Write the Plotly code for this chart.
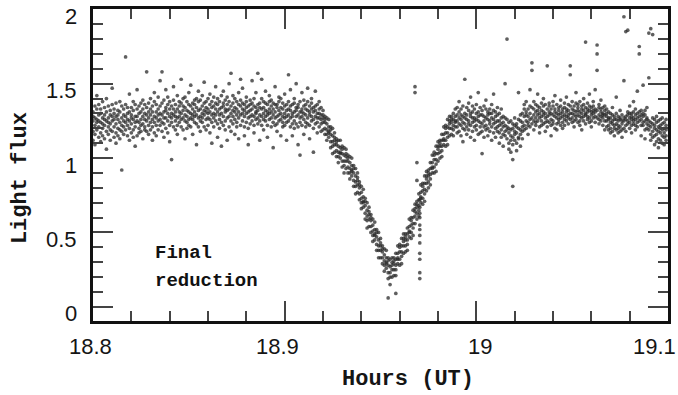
import plotly.graph_objects as go

# ---------------- data ----------------
# each row: (hour, flux, flux, flux, ...)
band_before = [
    (18.800, 1.31, 1.18, 1.25, 1.12, 1.28), (18.801, 1.22, 1.35, 1.16, 1.27, 1.09),
    (18.802, 1.26, 1.19, 1.33, 1.24, 1.42), (18.803, 1.14, 1.29, 1.21, 1.36, 1.25),
    (18.804, 1.30, 1.17, 1.24, 1.11, 1.33), (18.805, 1.20, 1.27, 1.38, 1.23, 1.15),
    (18.806, 1.34, 1.22, 1.13, 1.29, 1.26), (18.807, 1.18, 1.31, 1.25, 1.06, 1.40),
    (18.808, 1.27, 1.21, 1.35, 1.16, 1.24), (18.809, 1.23, 1.12, 1.29, 1.32, 1.19),
    (18.810, 1.36, 1.25, 1.18, 1.28, 1.47), (18.811, 1.21, 1.30, 1.14, 1.26, 1.33),
    (18.812, 1.28, 1.17, 1.23, 1.37, 1.10), (18.813, 1.15, 1.26, 1.32, 1.20, 1.29),
    (18.814, 1.31, 1.24, 1.19, 1.13, 1.38), (18.815, 1.22, 1.35, 1.27, 0.92, 1.18),
    (18.816, 1.29, 1.16, 1.25, 1.33, 1.21), (18.817, 1.19, 1.28, 1.68, 1.24, 1.36),
    (18.818, 1.34, 1.22, 1.15, 1.30, 1.26), (18.819, 1.25, 1.31, 1.20, 1.12, 1.43),
    (18.820, 1.17, 1.27, 1.34, 1.23, 1.29), (18.821, 1.32, 1.19, 1.26, 1.38, 1.14),
    (18.822, 1.24, 1.36, 1.21, 1.28, 1.08), (18.823, 1.28, 1.15, 1.33, 1.25, 1.46),
    (18.824, 1.20, 1.30, 1.24, 1.17, 1.35), (18.825, 1.37, 1.26, 1.18, 1.31, 1.22),
    (18.826, 1.23, 1.33, 1.28, 1.13, 1.39), (18.827, 1.30, 1.21, 1.36, 1.26, 1.19),
    (18.828, 1.18, 1.34, 1.25, 1.29, 1.58), (18.829, 1.27, 1.22, 1.31, 1.16, 1.37),
    (18.830, 1.33, 1.24, 1.40, 1.19, 1.29), (18.831, 1.26, 1.35, 1.21, 1.31, 1.12),
    (18.832, 1.38, 1.28, 1.17, 1.24, 1.44), (18.833, 1.22, 1.31, 1.36, 1.27, 1.15),
    (18.834, 1.29, 1.19, 1.33, 1.41, 1.25), (18.835, 1.35, 1.26, 1.22, 1.30, 1.52),
    (18.836, 1.24, 1.37, 1.29, 1.58, 1.18), (18.837, 1.31, 1.23, 1.39, 1.27, 1.14),
    (18.838, 1.27, 1.34, 1.20, 1.32, 1.46), (18.839, 1.36, 1.25, 1.30, 1.17, 1.41),
    (18.840, 1.22, 1.33, 1.28, 1.38, 1.11), (18.841, 1.30, 1.24, 1.35, 0.99, 1.27),
    (18.842, 1.39, 1.29, 1.21, 1.33, 1.48), (18.843, 1.25, 1.36, 1.31, 1.19, 1.28),
    (18.844, 1.33, 1.22, 1.27, 1.42, 1.16), (18.845, 1.28, 1.38, 1.24, 1.31, 1.35),
    (18.846, 1.21, 1.30, 1.37, 1.26, 1.53), (18.847, 1.35, 1.27, 1.19, 1.32, 1.40),
    (18.848, 1.29, 1.41, 1.25, 1.34, 1.13), (18.849, 1.24, 1.32, 1.38, 1.28, 1.20),
    (18.850, 1.36, 1.26, 1.31, 1.44, 1.22), (18.851, 1.30, 1.21, 1.35, 1.27, 1.49),
    (18.852, 1.26, 1.37, 1.29, 1.16, 1.33), (18.853, 1.39, 1.31, 1.24, 1.36, 1.28),
    (18.854, 1.23, 1.34, 1.40, 1.29, 1.09), (18.855, 1.32, 1.27, 1.21, 1.38, 1.45),
    (18.856, 1.28, 1.39, 1.33, 1.25, 1.18), (18.857, 1.35, 1.24, 1.30, 1.42, 1.27),
    (18.858, 1.21, 1.32, 1.37, 1.29, 1.51), (18.859, 1.31, 1.26, 1.34, 1.19, 1.38),
    (18.860, 1.33, 1.27, 1.40, 1.22, 1.30), (18.861, 1.26, 1.36, 1.31, 1.17, 1.43),
    (18.862, 1.38, 1.29, 1.24, 1.34, 1.10), (18.863, 1.30, 1.41, 1.27, 1.21, 1.35),
    (18.864, 1.25, 1.33, 1.37, 1.29, 1.48), (18.865, 1.36, 1.23, 1.31, 1.40, 1.14),
    (18.866, 1.29, 1.38, 1.26, 1.33, 1.20), (18.867, 1.34, 1.24, 1.42, 1.30, 1.08),
    (18.868, 1.22, 1.35, 1.28, 1.37, 1.45), (18.869, 1.39, 1.31, 1.25, 1.19, 1.33),
    (18.870, 1.27, 1.36, 1.32, 1.41, 1.12), (18.871, 1.33, 1.21, 1.38, 1.28, 1.50),
    (18.872, 1.25, 1.30, 1.35, 1.57, 1.18), (18.873, 1.37, 1.28, 1.23, 1.32, 1.42),
    (18.874, 1.31, 1.40, 1.26, 1.16, 1.34), (18.875, 1.24, 1.33, 1.38, 1.29, 1.21),
    (18.876, 1.36, 1.27, 1.31, 1.44, 1.13), (18.877, 1.29, 1.35, 1.22, 1.39, 1.53),
    (18.878, 1.33, 1.25, 1.37, 1.30, 1.47), (18.879, 1.21, 1.32, 1.28, 1.36, 1.15),
    (18.880, 1.38, 1.30, 1.24, 1.34, 1.41), (18.881, 1.27, 1.35, 1.31, 1.20, 1.09),
    (18.882, 1.32, 1.23, 1.39, 1.28, 1.36), (18.883, 1.25, 1.37, 1.29, 1.33, 1.52),
    (18.884, 1.35, 1.28, 1.22, 1.40, 1.17), (18.885, 1.30, 1.34, 1.26, 1.31, 1.44),
    (18.886, 1.23, 1.36, 1.32, 1.57, 1.27), (18.887, 1.37, 1.29, 1.25, 1.34, 1.12),
    (18.888, 1.28, 1.33, 1.40, 1.22, 1.53), (18.889, 1.34, 1.26, 1.30, 1.38, 1.19),
    (18.890, 1.25, 1.37, 1.32, 1.28, 1.45), (18.891, 1.31, 1.22, 1.36, 1.29, 1.14),
    (18.892, 1.38, 1.30, 1.26, 1.33, 1.42), (18.893, 1.27, 1.35, 1.39, 1.21, 1.31),
    (18.894, 1.33, 1.24, 1.29, 1.37, 1.07), (18.895, 1.22, 1.31, 1.36, 1.27, 1.48),
    (18.896, 1.36, 1.28, 1.23, 1.34, 1.18), (18.897, 1.29, 1.38, 1.32, 1.25, 1.41),
    (18.898, 1.34, 1.26, 1.30, 1.40, 1.15), (18.899, 1.24, 1.33, 1.37, 1.28, 1.21),
    (18.900, 1.30, 1.22, 1.35, 1.27, 1.43), (18.901, 1.36, 1.28, 1.24, 1.32, 1.12),
    (18.902, 1.25, 1.33, 1.38, 1.29, 1.56), (18.903, 1.32, 1.27, 1.21, 1.35, 1.46),
    (18.904, 1.28, 1.36, 1.30, 1.23, 1.15), (18.905, 1.37, 1.25, 1.31, 1.40, 1.20),
    (18.906, 1.23, 1.32, 1.28, 1.34, 1.50), (18.907, 1.34, 1.29, 1.36, 1.21, 1.09),
    (18.908, 1.27, 1.38, 1.24, 1.31, 1.02), (18.909, 1.31, 1.22, 1.33, 1.28, 1.44),
    (18.910, 1.35, 1.30, 1.26, 1.39, 1.16), (18.911, 1.24, 1.33, 1.29, 1.36, 1.21),
    (18.912, 1.38, 1.27, 1.32, 1.23, 1.47), (18.913, 1.29, 1.35, 1.22, 1.31, 1.13),
    (18.914, 1.33, 1.25, 1.37, 1.28, 1.40), (18.915, 1.26, 1.31, 1.34, 1.20, 1.04),
    (18.916, 1.35, 1.28, 1.23, 1.32, 1.45), (18.917, 1.30, 1.24, 1.36, 1.27, 1.17),
    (18.918, 1.27, 1.33, 1.21, 1.30, 1.38), (18.919, 1.23, 1.29, 1.34, 1.18, 1.26),
]

eclipse = [
    (18.920, 1.19, 1.27, 1.32, 1.24, 1.29), (18.921, 1.28, 1.20, 1.24, 1.16, 1.26),
    (18.922, 1.19, 1.27, 1.16, 1.23, 1.12), (18.923, 1.21, 1.17, 1.26, 1.14, 1.18),
    (18.924, 1.11, 1.19, 1.07, 1.16, 1.21), (18.925, 1.20, 1.08, 1.15, 1.11, 1.03),
    (18.926, 1.04, 1.12, 1.17, 1.09, 1.14), (18.927, 1.13, 1.05, 1.09, 1.01, 1.11),
    (18.928, 1.04, 1.12, 1.01, 1.08, 0.97), (18.929, 1.07, 1.03, 1.12, 1.00, 1.04),
    (18.930, 0.98, 1.06, 0.94, 1.03, 1.08), (18.931, 1.07, 0.95, 1.02, 0.98, 0.90),
    (18.932, 0.93, 1.01, 1.06, 0.98, 1.03), (18.933, 1.02, 0.94, 0.98, 0.90, 1.00),
    (18.934, 0.93, 1.01, 0.90, 0.97, 0.86), (18.935, 0.95, 0.91, 1.00, 0.88, 0.92),
    (18.936, 0.85, 0.93, 0.81, 0.90, 0.95), (18.937, 0.93, 0.81, 0.88, 0.84, 0.76),
    (18.938, 0.77, 0.85, 0.90, 0.82, 0.87), (18.939, 0.84, 0.76, 0.80, 0.72, 0.82),
    (18.940, 0.73, 0.81, 0.70, 0.77, 0.66), (18.941, 0.74, 0.70, 0.79, 0.67, 0.71),
    (18.942, 0.63, 0.71, 0.59, 0.68, 0.73), (18.943, 0.70, 0.58, 0.65, 0.61, 0.53),
    (18.944, 0.54, 0.62, 0.67, 0.59, 0.64), (18.945, 0.62, 0.54, 0.58, 0.50, 0.60),
    (18.946, 0.51, 0.59, 0.48, 0.55, 0.44), (18.947, 0.52, 0.48, 0.57, 0.45, 0.49),
    (18.948, 0.42, 0.50, 0.38, 0.47, 0.52), (18.949, 0.50, 0.38, 0.45, 0.41, 0.33),
    (18.950, 0.33, 0.41, 0.46, 0.38, 0.43), (18.951, 0.41, 0.33, 0.37, 0.29, 0.39),
    (18.952, 0.31, 0.39, 0.28, 0.35, 0.24), (18.953, 0.33, 0.29, 0.38, 0.26, 0.30),
    (18.954, 0.23, 0.31, 0.19, 0.28, 0.33, 0.06), (18.955, 0.32, 0.20, 0.27, 0.23, 0.15),
    (18.956, 0.20, 0.28, 0.33, 0.25, 0.30), (18.957, 0.33, 0.25, 0.29, 0.21, 0.31),
    (18.958, 0.28, 0.36, 0.25, 0.32, 0.21, 0.09), (18.959, 0.36, 0.32, 0.41, 0.29, 0.33),
    (18.960, 0.32, 0.40, 0.28, 0.37, 0.42), (18.961, 0.46, 0.34, 0.41, 0.37, 0.29),
    (18.962, 0.36, 0.44, 0.49, 0.41, 0.46), (18.963, 0.49, 0.41, 0.45, 0.37, 0.47),
    (18.964, 0.45, 0.53, 0.42, 0.49, 0.38), (18.965, 0.54, 0.50, 0.59, 0.47, 0.51),
    (18.966, 0.50, 0.58, 0.46, 0.55, 0.60), (18.967, 0.65, 0.53, 0.60, 0.56, 0.48),
    (18.968, 0.56, 0.64, 0.69, 0.61, 0.66, 1.48, 1.44), (18.969, 0.71, 0.63, 0.67, 0.59, 0.69, 0.97, 0.85),
    (18.970, 0.68, 0.76, 0.65, 0.72, 0.61), (18.971, 0.77, 0.73, 0.82, 0.70, 0.74),
    (18.972, 0.73, 0.81, 0.69, 0.78, 0.83), (18.973, 0.88, 0.76, 0.83, 0.79, 0.71),
    (18.974, 0.78, 0.86, 0.91, 0.83, 0.88), (18.975, 0.92, 0.84, 0.88, 0.80, 0.90),
    (18.976, 0.89, 0.97, 0.86, 0.93, 0.82), (18.977, 0.97, 0.93, 1.02, 0.90, 0.94),
    (18.978, 0.94, 1.02, 0.90, 0.99, 1.04), (18.979, 1.08, 0.96, 1.03, 0.99, 0.91),
    (18.980, 0.98, 1.06, 1.11, 1.03, 1.08), (18.981, 1.12, 1.04, 1.08, 1.00, 1.10),
    (18.982, 1.08, 1.16, 1.05, 1.12, 1.01), (18.983, 1.16, 1.12, 1.21, 1.09, 1.13),
    (18.984, 1.12, 1.20, 1.08, 1.17, 1.22), (18.985, 1.26, 1.14, 1.21, 1.17, 1.09),
    (18.986, 1.15, 1.23, 1.28, 1.20, 1.25), (18.987, 1.28, 1.20, 1.24, 1.16, 1.26),
    (18.988, 1.22, 1.30, 1.19, 1.26, 1.15), (18.989, 1.28, 1.24, 1.33, 1.21, 1.25),
]

# isolated vertical string of points near the egress
stray_column = [
    (18.9705, 0.72, 0.67, 0.63, 0.60, 0.55, 0.52, 0.48, 0.43, 0.36, 0.32, 0.23, 0.19),
]

band_after = [
    (18.990, 1.29, 1.21, 1.34, 1.25, 1.17), (18.991, 1.23, 1.31, 1.18, 1.27, 1.38),
    (18.992, 1.33, 1.26, 1.22, 1.15, 1.29), (18.993, 1.20, 1.28, 1.35, 1.24, 1.11),
    (18.994, 1.30, 1.23, 1.27, 1.53, 1.19), (18.995, 1.26, 1.34, 1.21, 1.29, 1.16),
    (18.996, 1.32, 1.19, 1.25, 1.37, 1.23), (18.997, 1.22, 1.30, 1.28, 1.14, 1.41),
    (18.998, 1.35, 1.24, 1.18, 1.31, 1.27), (18.999, 1.27, 1.21, 1.33, 1.25, 1.12),
    (19.000, 1.19, 1.30, 1.26, 1.36, 1.22), (19.001, 1.31, 1.25, 1.16, 1.28, 1.44),
    (19.002, 1.24, 1.34, 1.29, 1.21, 1.17), (19.003, 1.29, 1.18, 1.23, 1.32, 1.03),
    (19.004, 1.21, 1.28, 1.35, 1.25, 1.14), (19.005, 1.33, 1.22, 1.27, 1.19, 1.39),
    (19.006, 1.26, 1.31, 1.20, 1.29, 1.15), (19.007, 1.18, 1.25, 1.33, 1.23, 1.30),
    (19.008, 1.30, 1.21, 1.27, 1.36, 1.12), (19.009, 1.23, 1.32, 1.17, 1.26, 1.43),
    (19.010, 1.28, 1.20, 1.24, 1.31, 1.14), (19.011, 1.21, 1.29, 1.34, 1.18, 1.25),
    (19.012, 1.25, 1.17, 1.22, 1.30, 1.10), (19.013, 1.19, 1.27, 1.14, 1.23, 1.33),
    (19.014, 1.24, 1.16, 1.21, 1.28, 1.08), (19.015, 1.15, 1.22, 1.27, 1.18, 1.50),
    (19.016, 1.21, 1.13, 1.19, 1.26, 1.80), (19.017, 1.17, 1.24, 1.10, 1.20, 1.06),
    (19.018, 1.12, 1.19, 1.25, 1.15, 1.04), (19.019, 1.20, 1.14, 1.09, 1.23, 0.99, 0.81),
    (19.020, 1.16, 1.22, 1.12, 1.18, 1.27), (19.021, 1.23, 1.10, 1.17, 1.21, 1.05),
    (19.022, 1.14, 1.20, 1.26, 1.13, 1.44), (19.023, 1.19, 1.25, 1.16, 1.29, 1.08),
    (19.024, 1.24, 1.18, 1.30, 1.21, 1.13), (19.025, 1.28, 1.22, 1.33, 1.19, 1.36),
    (19.026, 1.31, 1.25, 1.20, 1.29, 1.38), (19.027, 1.24, 1.33, 1.28, 1.22, 1.16),
    (19.028, 1.30, 1.26, 1.35, 1.46, 1.21), (19.029, 1.27, 1.34, 1.23, 1.64, 1.59),
    (19.030, 1.33, 1.25, 1.29, 1.38, 1.19), (19.031, 1.22, 1.31, 1.36, 1.27, 1.24),
    (19.032, 1.29, 1.35, 1.25, 1.32, 1.43), (19.033, 1.34, 1.27, 1.21, 1.30, 1.17),
    (19.034, 1.25, 1.32, 1.37, 1.28, 1.22), (19.035, 1.31, 1.23, 1.29, 1.35, 1.40),
    (19.036, 1.27, 1.36, 1.24, 1.30, 1.18), (19.037, 1.33, 1.28, 1.62, 1.25, 1.21),
    (19.038, 1.24, 1.31, 1.35, 1.29, 1.37), (19.039, 1.30, 1.26, 1.22, 1.33, 1.15),
    (19.040, 1.35, 1.29, 1.25, 1.38, 1.23), (19.041, 1.28, 1.33, 1.20, 1.31, 1.42),
    (19.042, 1.23, 1.30, 1.36, 1.27, 1.19), (19.043, 1.32, 1.26, 1.29, 1.34, 1.24),
    (19.044, 1.27, 1.35, 1.22, 1.30, 1.39), (19.045, 1.31, 1.24, 1.33, 1.28, 1.20),
    (19.046, 1.26, 1.34, 1.29, 1.37, 1.22), (19.047, 1.33, 1.28, 1.25, 1.31, 1.41),
    (19.048, 1.29, 1.36, 1.23, 1.32, 1.27), (19.049, 1.35, 1.30, 1.62, 1.56, 1.26),
    (19.050, 1.27, 1.33, 1.38, 1.24, 1.30), (19.051, 1.32, 1.25, 1.29, 1.35, 1.21),
    (19.052, 1.28, 1.37, 1.31, 1.26, 1.44), (19.053, 1.34, 1.29, 1.24, 1.32, 1.36),
    (19.054, 1.25, 1.31, 1.38, 1.28, 1.22), (19.055, 1.30, 1.35, 1.27, 1.33, 1.19),
    (19.056, 1.36, 1.28, 1.32, 1.25, 1.40), (19.057, 1.29, 1.34, 1.78, 1.30, 1.23),
    (19.058, 1.33, 1.26, 1.31, 1.37, 1.28), (19.059, 1.27, 1.32, 1.35, 1.24, 1.43),
    (19.060, 1.31, 1.29, 1.25, 1.34, 1.21), (19.061, 1.35, 1.27, 1.30, 1.38, 1.32),
    (19.062, 1.28, 1.33, 1.24, 1.31, 1.46), (19.063, 1.32, 1.76, 1.70, 1.59, 1.27),
    (19.064, 1.26, 1.34, 1.29, 1.36, 1.23), (19.065, 1.31, 1.28, 1.33, 1.25, 1.39),
    (19.066, 1.34, 1.27, 1.30, 1.22, 1.29), (19.067, 1.29, 1.32, 1.25, 1.35, 1.19),
    (19.068, 1.25, 1.30, 1.21, 1.28, 1.33), (19.069, 1.22, 1.27, 1.31, 1.19, 1.26),
    (19.070, 1.27, 1.20, 1.24, 1.30, 1.17), (19.071, 1.23, 1.29, 1.18, 1.25, 1.34),
    (19.072, 1.20, 1.26, 1.28, 1.22, 1.15), (19.073, 1.26, 1.19, 1.23, 1.30, 1.41),
    (19.074, 1.22, 1.28, 1.17, 1.25, 1.20), (19.075, 1.27, 1.21, 1.26, 1.18, 1.32),
    (19.076, 1.19, 1.25, 1.29, 1.23, 1.14), (19.077, 1.25, 1.20, 1.27, 1.52, 1.95),
    (19.078, 1.28, 1.22, 1.18, 1.26, 1.85), (19.079, 1.23, 1.29, 1.25, 1.86, 1.31),
    (19.080, 1.27, 1.24, 1.30, 1.20, 1.35), (19.081, 1.30, 1.26, 1.22, 1.28, 1.17),
    (19.082, 1.25, 1.31, 1.27, 1.23, 1.38), (19.083, 1.29, 1.22, 1.33, 1.26, 1.19),
    (19.084, 1.24, 1.30, 1.27, 1.21, 1.45), (19.085, 1.31, 1.25, 1.75, 1.70, 1.28),
    (19.086, 1.26, 1.32, 1.22, 1.29, 1.15), (19.087, 1.22, 1.28, 1.30, 1.24, 1.49),
    (19.088, 1.29, 1.19, 1.25, 1.32, 1.13), (19.089, 1.23, 1.27, 1.20, 1.26, 1.34),
    (19.090, 1.19, 1.25, 1.84, 1.54, 1.22), (19.091, 1.24, 1.16, 1.87, 1.21, 1.12),
    (19.092, 1.18, 1.23, 1.27, 1.14, 1.83), (19.093, 1.22, 1.15, 1.20, 1.26, 1.09),
    (19.094, 1.16, 1.24, 1.11, 1.19, 1.28), (19.095, 1.21, 1.13, 1.18, 1.25, 1.07),
    (19.096, 1.17, 1.22, 1.26, 1.12, 1.20), (19.097, 1.23, 1.15, 1.19, 1.10, 1.27),
    (19.098, 1.14, 1.20, 1.24, 1.17, 1.09), (19.099, 1.19, 1.12, 1.22, 1.26, 1.15),
]

x_tick_vals = [18.8, 18.9, 19.0, 19.1]
x_tick_text = ["18.8", "18.9", "19", "19.1"]
y_tick_vals = [0, 0.5, 1, 1.5, 2]
y_tick_text = ["0", "0.5", "1", "1.5", "2"]

x_title = "Hours (UT)"
y_title = "Light flux"
note_lines = ["Final", "reduction"]

X_RANGE = [18.8, 19.1]
Y_RANGE = [-0.095, 2.002]

# ---------------- flatten ----------------
hours, flux = [], []
for block in (band_before, eclipse, stray_column, band_after):
    for row in block:
        for v in row[1:]:
            hours.append(row[0])
            flux.append(v)

fig = go.Figure()
fig.add_trace(go.Scatter(
    x=hours, y=flux, mode="markers",
    marker=dict(size=3.7, color="#2a2a2a", opacity=0.75, line=dict(width=0)),
    hoverinfo="skip", showlegend=False,
))
# empty trace so the top / right tick axes are drawn
fig.add_trace(go.Scatter(x=[], y=[], xaxis="x2", yaxis="y2", mode="markers",
                         hoverinfo="skip", showlegend=False))

tick_font = dict(family="Liberation Sans, Arial, sans-serif", size=22, color="#151515")
mono = "Liberation Mono, Courier New, monospace"

tick_style = dict(ticks="inside", ticklen=20, tickwidth=1.8, tickcolor="#444444",
                  showline=True, linewidth=2.5, linecolor="#111111", mirror=False,
                  showgrid=False, zeroline=False, showticklabels=False,
                  showspikes=False)
x_minor = dict(dtick=0.02, tick0=18.8, ticks="inside", ticklen=10, tickwidth=1.8,
               tickcolor="#444444", showgrid=False)
y_minor = dict(dtick=0.1, tick0=0, ticks="inside", ticklen=10, tickwidth=1.8,
               tickcolor="#444444", showgrid=False)

fig.update_layout(
    template="none",
    width=678, height=395,
    margin=dict(l=93, r=10, t=9, b=74),
    plot_bgcolor="white", paper_bgcolor="white",
    showlegend=False,
    xaxis=dict(range=X_RANGE, tickmode="linear", tick0=18.8, dtick=0.1,
               minor=x_minor, side="bottom", **tick_style),
    yaxis=dict(range=Y_RANGE, tickmode="linear", tick0=0, dtick=0.5,
               minor=y_minor, side="left", **tick_style),
    xaxis2=dict(range=X_RANGE, tickmode="linear", tick0=18.8, dtick=0.1,
                minor=x_minor, side="top", overlaying="x", **tick_style),
    yaxis2=dict(range=Y_RANGE, tickmode="linear", tick0=0, dtick=0.5,
                minor=y_minor, side="right", overlaying="y", **tick_style),
)

# tick labels (placed like the original: numbers sit a little off their ticks)
x_label_nudge = [-3, -7, 4, -14]
for v, t, dx in zip(x_tick_vals, x_tick_text, x_label_nudge):
    fig.add_annotation(text=t, xref="x", yref="paper", x=v, y=0, xanchor="center",
                       yanchor="top", yshift=-11, xshift=dx, showarrow=False,
                       font=tick_font)
for v, t in zip(y_tick_vals, y_tick_text):
    fig.add_annotation(text=t, xref="paper", yref="y", x=0, y=v, xanchor="right",
                       yanchor="middle", xshift=-14, yshift=-7, showarrow=False,
                       font=tick_font)

fig.add_annotation(text=x_title, xref="paper", yref="paper", x=0.548, y=-0.189,
                   xanchor="center", yanchor="middle", showarrow=False,
                   font=dict(family=mono, size=22, color="#151515", weight="bold"))
fig.add_annotation(text=y_title, xref="paper", yref="paper", x=-0.127, y=0.458,
                   xanchor="center", yanchor="middle", textangle=-90, showarrow=False,
                   font=dict(family=mono, size=22, color="#151515", weight="bold"))
fig.add_annotation(text=note_lines[0], xref="x", yref="y", x=18.8313, y=0.362,
                   xanchor="left", yanchor="middle", showarrow=False,
                   font=dict(family=mono, size=19, color="#111", weight="bold"))
fig.add_annotation(text=note_lines[1], xref="x", yref="y", x=18.8313, y=0.174,
                   xanchor="left", yanchor="middle", showarrow=False,
                   font=dict(family=mono, size=19, color="#111", weight="bold"))

fig.write_html("out.html")
